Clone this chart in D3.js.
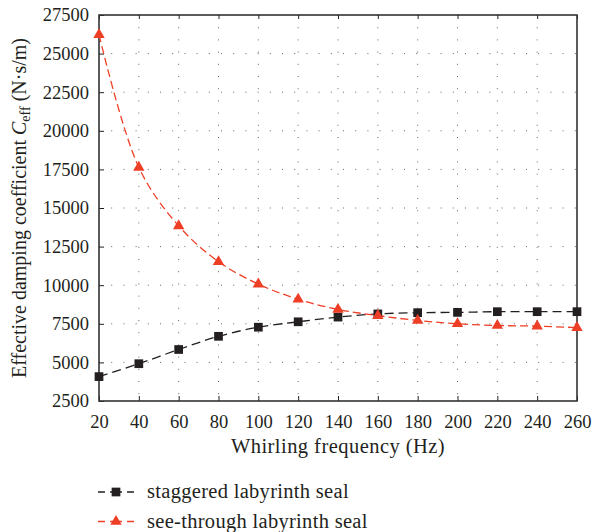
<!DOCTYPE html>
<html>
<head>
<meta charset="utf-8">
<script src="https://cdn.jsdelivr.net/npm/d3@7"></script>
<style>
  body { margin: 0; background: #fff; }
  svg text { font-family: "Liberation Serif", "Times New Roman", Tinos, "DejaVu Serif", serif; fill: #231f20; }
</style>
</head>
<body>
<div id="chart"></div>
<script>
// chart data
var freqs = [20, 40, 60, 80, 100, 120, 140, 160, 180, 200, 220, 240, 260];
var staggered = [4080, 4915, 5835, 6690, 7280, 7630, 7935, 8140, 8220, 8240, 8285, 8285, 8285];
var seeThrough = [26230, 17630, 13840, 11520, 10070, 9090, 8430, 8030, 7720, 7500, 7390, 7350, 7250];
var xTicks = [20, 40, 60, 80, 100, 120, 140, 160, 180, 200, 220, 240, 260];
var yTicks = [2500, 5000, 7500, 10000, 12500, 15000, 17500, 20000, 22500, 25000, 27500];
var seriesNames = ["staggered labyrinth seal", "see-through labyrinth seal"];

var svgWidth = 593;
var svgHeight = 532;
var margin = { top: 15, right: 16, bottom: 131, left: 99 };
var width = svgWidth - margin.left - margin.right;
var height = svgHeight - margin.top - margin.bottom;

var black = "#231f20";
var red = "#ef3e26";
var serif = "'Liberation Serif', 'Times New Roman', Tinos, 'DejaVu Serif', serif";

var svg = d3.select("#chart")
  .append("svg")
  .attr("width", svgWidth)
  .attr("height", svgHeight)
  .attr("font-family", serif);

var chartGroup = svg.append("g")
  .attr("transform", `translate(${margin.left}, ${margin.top})`);

var xScale = d3.scaleLinear().domain([20, 260]).range([0, width]);
var yScale = d3.scaleLinear().domain([2500, 27500]).range([height, 0]);

// dotted grid
chartGroup.selectAll(".vgrid")
  .data(xTicks.slice(1, -1))
  .enter()
  .append("line")
  .attr("x1", d => xScale(d))
  .attr("x2", d => xScale(d))
  .attr("y1", 0)
  .attr("y2", height)
  .attr("stroke", "#666")
  .attr("stroke-width", 1)
  .attr("stroke-dasharray", "1,11.2");

chartGroup.selectAll(".hgrid")
  .data(yTicks.slice(1, -1))
  .enter()
  .append("line")
  .attr("x1", 0)
  .attr("x2", width)
  .attr("y1", d => yScale(d))
  .attr("y2", d => yScale(d))
  .attr("stroke", "#666")
  .attr("stroke-width", 1)
  .attr("stroke-dasharray", "1,11.2");

// axes with inward ticks
var bottomAxis = d3.axisBottom(xScale).tickValues(xTicks).tickSizeInner(-5).tickSizeOuter(0).tickPadding(14);
var leftAxis = d3.axisLeft(yScale).tickValues(yTicks).tickFormat(d3.format("d"))
  .tickSizeInner(-5).tickSizeOuter(0).tickPadding(10);
var topAxis = d3.axisTop(xScale).tickValues(xTicks).tickSizeInner(-4).tickSizeOuter(0).tickFormat("");

var xAxisG = chartGroup.append("g")
  .attr("transform", `translate(0, ${height})`)
  .call(bottomAxis);
var yAxisG = chartGroup.append("g").call(leftAxis);
var topAxisG = chartGroup.append("g").call(topAxis);

[xAxisG, yAxisG, topAxisG].forEach(function(g) {
  g.attr("font-family", serif).attr("font-size", 18.5);
  g.select(".domain").remove();
  g.selectAll("line").attr("stroke", black);
  g.selectAll("text").attr("fill", black);
});

// frame
chartGroup.append("rect")
  .attr("width", width)
  .attr("height", height)
  .attr("fill", "none")
  .attr("stroke", "#333")
  .attr("stroke-width", 1.6);

// lines
var line = d3.line()
  .x((d, i) => xScale(freqs[i]))
  .y(d => yScale(d))
  .curve(d3.curveCatmullRom.alpha(0.5));

chartGroup.append("path")
  .datum(staggered)
  .attr("d", line)
  .attr("fill", "none")
  .attr("stroke", black)
  .attr("stroke-width", 1.3)
  .attr("stroke-dasharray", "9,5");

chartGroup.append("path")
  .datum(seeThrough)
  .attr("d", line)
  .attr("fill", "none")
  .attr("stroke", red)
  .attr("stroke-width", 1.3)
  .attr("stroke-dasharray", "8,4");

var square = d3.symbol().type(d3.symbolSquare).size(76);
var triangle = d3.symbol().type(d3.symbolTriangle).size(56);

chartGroup.selectAll(".sq")
  .data(staggered)
  .enter()
  .append("path")
  .attr("d", square)
  .attr("transform", (d, i) => `translate(${xScale(freqs[i])}, ${yScale(d)})`)
  .attr("fill", black);

chartGroup.selectAll(".tri")
  .data(seeThrough)
  .enter()
  .append("path")
  .attr("d", triangle)
  .attr("transform", (d, i) => `translate(${xScale(freqs[i])}, ${yScale(d)})`)
  .attr("fill", red);

// axis titles
chartGroup.append("text")
  .attr("x", width / 2)
  .attr("y", height + 52)
  .attr("text-anchor", "middle")
  .attr("font-size", "20.5px")
  .attr("letter-spacing", "0.45px")
  .text("Whirling frequency (Hz)");

var yTitle = svg.append("text")
  .attr("transform", `translate(26, ${margin.top + height / 2}) rotate(-90)`)
  .attr("text-anchor", "middle")
  .attr("font-size", "20px");
yTitle.append("tspan").text("Effective damping coefficient ");
yTitle.append("tspan").attr("font-style", "italic").text("C");
yTitle.append("tspan").attr("font-size", "14px").attr("dy", 4).text("eff");
yTitle.append("tspan").attr("dy", -4).text(" (N·s/m)");

// legend
var legend = svg.append("g");
var legendItems = [
  { name: seriesNames[0], color: black, sym: square },
  { name: seriesNames[1], color: red, sym: triangle }
];
legendItems.forEach(function(item, i) {
  var y = 492 + i * 29.5;
  legend.append("line")
    .attr("x1", 98).attr("x2", 134)
    .attr("y1", y).attr("y2", y)
    .attr("stroke", item.color)
    .attr("stroke-width", 1.3)
    .attr("stroke-dasharray", "7,5,12,5,7");
  legend.append("path")
    .attr("d", item.sym)
    .attr("transform", `translate(116, ${y})`)
    .attr("fill", item.color);
  legend.append("text")
    .attr("x", 147)
    .attr("y", y + 6)
    .attr("font-size", "20.5px")
    .attr("letter-spacing", "0.3px")
    .text(item.name);
});
</script>
</body>
</html>
